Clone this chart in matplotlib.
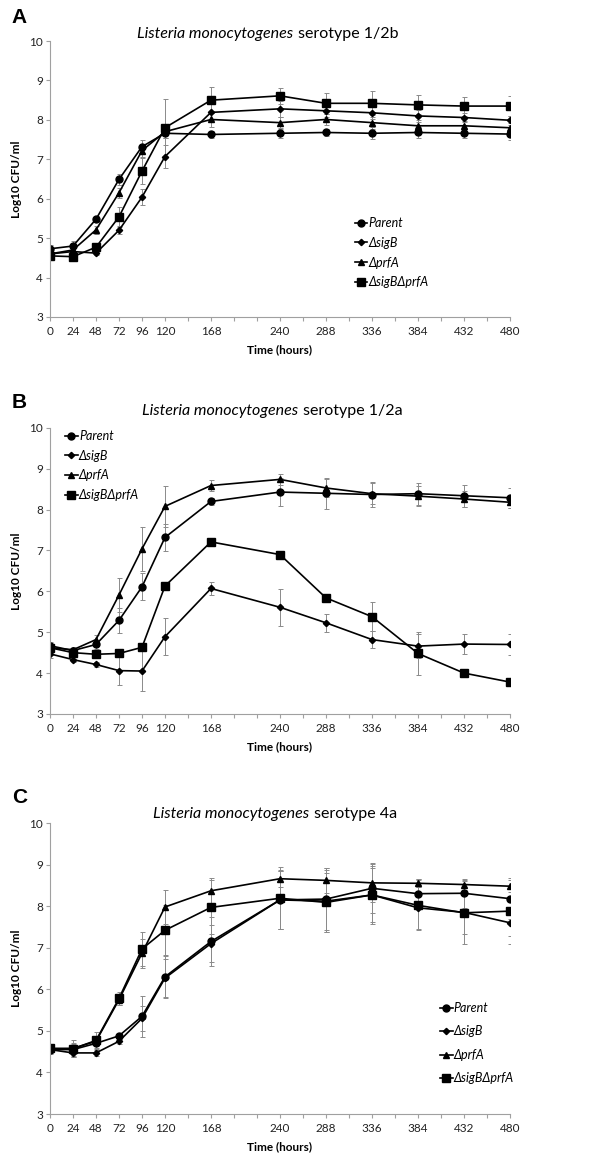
import matplotlib
matplotlib.use('Agg')
import matplotlib.pyplot as plt

plt.rcParams['font.family'] = ['Lato', 'DejaVu Sans']

hours = [0, 24, 48, 72, 96, 120, 168, 240, 288, 336, 384, 432, 480]
shown_labels = [0, 24, 48, 72, 96, 120, 168, 240, 288, 336, 384, 432, 480]
strains = ['Parent', 'ΔsigB', 'ΔprfA', 'ΔsigBΔprfA']

# panel A - serotype 1/2b
parent_a = [4.73, 4.80, 5.48, 6.49, 7.32, 7.66, 7.63, 7.66, 7.68, 7.66, 7.68, 7.66, 7.64]
sigb_a = [4.60, 4.66, 4.62, 5.20, 6.04, 7.07, 8.19, 8.28, 8.23, 8.18, 8.10, 8.06, 7.99]
prfa_a = [4.60, 4.70, 5.21, 6.15, 7.22, 7.70, 8.01, 7.93, 8.01, 7.93, 7.85, 7.85, 7.80]
dbl_a = [4.55, 4.53, 4.77, 5.54, 6.70, 7.80, 8.50, 8.61, 8.42, 8.42, 8.38, 8.35, 8.35]
parent_a_err = [0.10, 0.12, 0.08, 0.13, 0.17, 0.12, 0.10, 0.13, 0.10, 0.15, 0.15, 0.12, 0.15]
sigb_a_err = [0.08, 0.10, 0.06, 0.10, 0.20, 0.30, 0.20, 0.20, 0.15, 0.15, 0.15, 0.12, 0.12]
prfa_a_err = [0.08, 0.10, 0.10, 0.12, 0.15, 0.15, 0.20, 0.15, 0.15, 0.15, 0.15, 0.12, 0.12]
dbl_a_err = [0.08, 0.08, 0.08, 0.26, 0.33, 0.73, 0.33, 0.20, 0.27, 0.30, 0.24, 0.24, 0.25]

# panel B - serotype 1/2a
parent_b = [4.67, 4.55, 4.70, 5.29, 6.11, 7.32, 8.20, 8.43, 8.40, 8.37, 8.39, 8.34, 8.29]
sigb_b = [4.47, 4.33, 4.21, 4.06, 4.05, 4.89, 6.07, 5.61, 5.23, 4.82, 4.66, 4.71, 4.70]
prfa_b = [4.62, 4.57, 4.82, 5.91, 7.04, 8.08, 8.59, 8.74, 8.53, 8.39, 8.33, 8.26, 8.18]
dbl_b = [4.62, 4.50, 4.46, 4.48, 4.63, 6.13, 7.21, 6.90, 5.84, 5.38, 4.48, 4.00, 3.78]
parent_b_err = [0.08, 0.06, 0.10, 0.30, 0.33, 0.33, 0.08, 0.34, 0.38, 0.30, 0.27, 0.27, 0.25]
sigb_b_err = [0.10, 0.06, 0.06, 0.35, 0.50, 0.45, 0.17, 0.45, 0.22, 0.20, 0.30, 0.25, 0.25]
prfa_b_err = [0.08, 0.06, 0.10, 0.42, 0.53, 0.51, 0.14, 0.13, 0.22, 0.25, 0.25, 0.20, 0.15]
dbl_b_err = [0.06, 0.06, 0.06, 0.06, 0.06, 0.08, 0.06, 0.06, 0.06, 0.36, 0.52, 0.06, 0.06]

# panel C - serotype 4a
parent_c = [4.55, 4.55, 4.70, 4.88, 5.35, 6.30, 7.15, 8.15, 8.17, 8.43, 8.30, 8.31, 8.18]
sigb_c = [4.55, 4.47, 4.47, 4.75, 5.30, 6.27, 7.10, 8.15, 8.12, 8.27, 7.96, 7.85, 7.60]
prfa_c = [4.57, 4.58, 4.75, 5.75, 6.87, 7.98, 8.37, 8.66, 8.62, 8.56, 8.55, 8.52, 8.48]
dbl_c = [4.58, 4.57, 4.77, 5.78, 6.97, 7.42, 7.97, 8.19, 8.09, 8.27, 8.02, 7.84, 7.88]
parent_c_err = [0.10, 0.15, 0.10, 0.08, 0.50, 0.50, 0.60, 0.70, 0.75, 0.60, 0.35, 0.35, 0.50]
sigb_c_err = [0.08, 0.10, 0.08, 0.06, 0.30, 0.45, 0.45, 0.70, 0.75, 0.65, 0.50, 0.75, 0.50]
prfa_c_err = [0.08, 0.10, 0.12, 0.12, 0.35, 0.40, 0.30, 0.20, 0.30, 0.45, 0.10, 0.12, 0.15]
dbl_c_err = [0.10, 0.20, 0.20, 0.15, 0.40, 0.60, 0.65, 0.75, 0.70, 0.70, 0.60, 0.50, 0.60]

# letter, serotype, series, errors, axes rect, legend anchor, legend spacing,
# title centre / baseline, letter y
panels = [
    ('A', '1/2b', [parent_a, sigb_a, prfa_a, dbl_a],
     [parent_a_err, sigb_a_err, prfa_a_err, dbl_a_err],
     [0.0843, 0.7265, 0.7757, 0.2381], (0.663, 0.362), 0.62, (0.474, 1.011), 0.9845),
    ('B', '1/2a', [parent_b, sigb_b, prfa_b, dbl_b],
     [parent_b_err, sigb_b_err, prfa_b_err, dbl_b_err],
     [0.0843, 0.3840, 0.7757, 0.2468], (0.033, 0.993), 0.62, (0.483, 1.045), 0.6523),
    ('C', '4a', [parent_c, sigb_c, prfa_c, dbl_c],
     [parent_c_err, sigb_c_err, prfa_c_err, dbl_c_err],
     [0.0843, 0.0388, 0.7757, 0.2511], (0.848, 0.385), 0.92, (0.489, 1.017), 0.3115),
]

markers = ['o', 'D', '^', 's']
msizes = [5, 3.2, 5, 5.5]
grey = '#a0a0a0'

fig = plt.figure(figsize=(5.93, 11.59), dpi=100)
renderer = fig.canvas.get_renderer()

for letter, sero, series, errs, pos, legpos, lspace, tpos, ly in panels:
    ax = fig.add_axes(pos)
    for vals, err, mk, ms, name in zip(series, errs, markers, msizes, strains):
        ax.errorbar(hours, vals, yerr=err, fmt='none', ecolor='#8a8a8a',
                    elinewidth=0.7, capsize=1.8, capthick=0.7, zorder=1)
        ax.plot(hours, vals, color='black', lw=1.2, marker=mk, ms=ms,
                label=name, zorder=2)
    ax.set_xlim(0, 480)
    ax.set_ylim(3, 10)
    ax.set_yticks(range(3, 11))
    ticks = list(range(0, 481, 24))
    ax.set_xticks(ticks)
    ax.set_xticklabels([str(t) if t in shown_labels else '' for t in ticks])
    for side in ['top', 'right']:
        ax.spines[side].set_visible(False)
    for side in ['left', 'bottom']:
        ax.spines[side].set_color(grey)
        ax.spines[side].set_linewidth(0.8)
    ax.tick_params(axis='both', colors=grey, labelcolor='#222222',
                   labelsize=8.5, length=3, width=0.8)
    ax.tick_params(axis='y', pad=2)
    ax.set_xlabel('Time (hours)', fontsize=8.5, fontweight='bold', labelpad=5)
    ax.set_ylabel('Log10 CFU/ml', fontsize=8.5, fontweight='bold', labelpad=5)

    # title: italic species name + upright serotype, centred together
    t1 = ax.text(0, tpos[1], 'Listeria monocytogenes', transform=ax.transAxes,
                 fontsize=11.5, style='italic', ha='left', va='baseline')
    t2 = ax.text(0, tpos[1], 'serotype ' + sero, transform=ax.transAxes,
                 fontsize=11.5, ha='left', va='baseline')
    axw = ax.get_window_extent(renderer).width
    w1 = t1.get_window_extent(renderer).width / axw
    w2 = t2.get_window_extent(renderer).width / axw
    gap = 4.5 / axw
    x0 = tpos[0] - (w1 + gap + w2) / 2
    t1.set_x(x0)
    t2.set_x(x0 + w1 + gap)

    fig.text(0.02, ly, letter, fontsize=15, fontweight='bold', ha='left',
             va='center', family=['Liberation Sans', 'DejaVu Sans'])
    ax.legend(loc='upper left', bbox_to_anchor=legpos, frameon=False,
              handlelength=1.0, handletextpad=0.1, labelspacing=lspace,
              borderpad=0, borderaxespad=0,
              prop={'size': 9, 'style': 'italic'})

fig.savefig('out.png', dpi=100)
